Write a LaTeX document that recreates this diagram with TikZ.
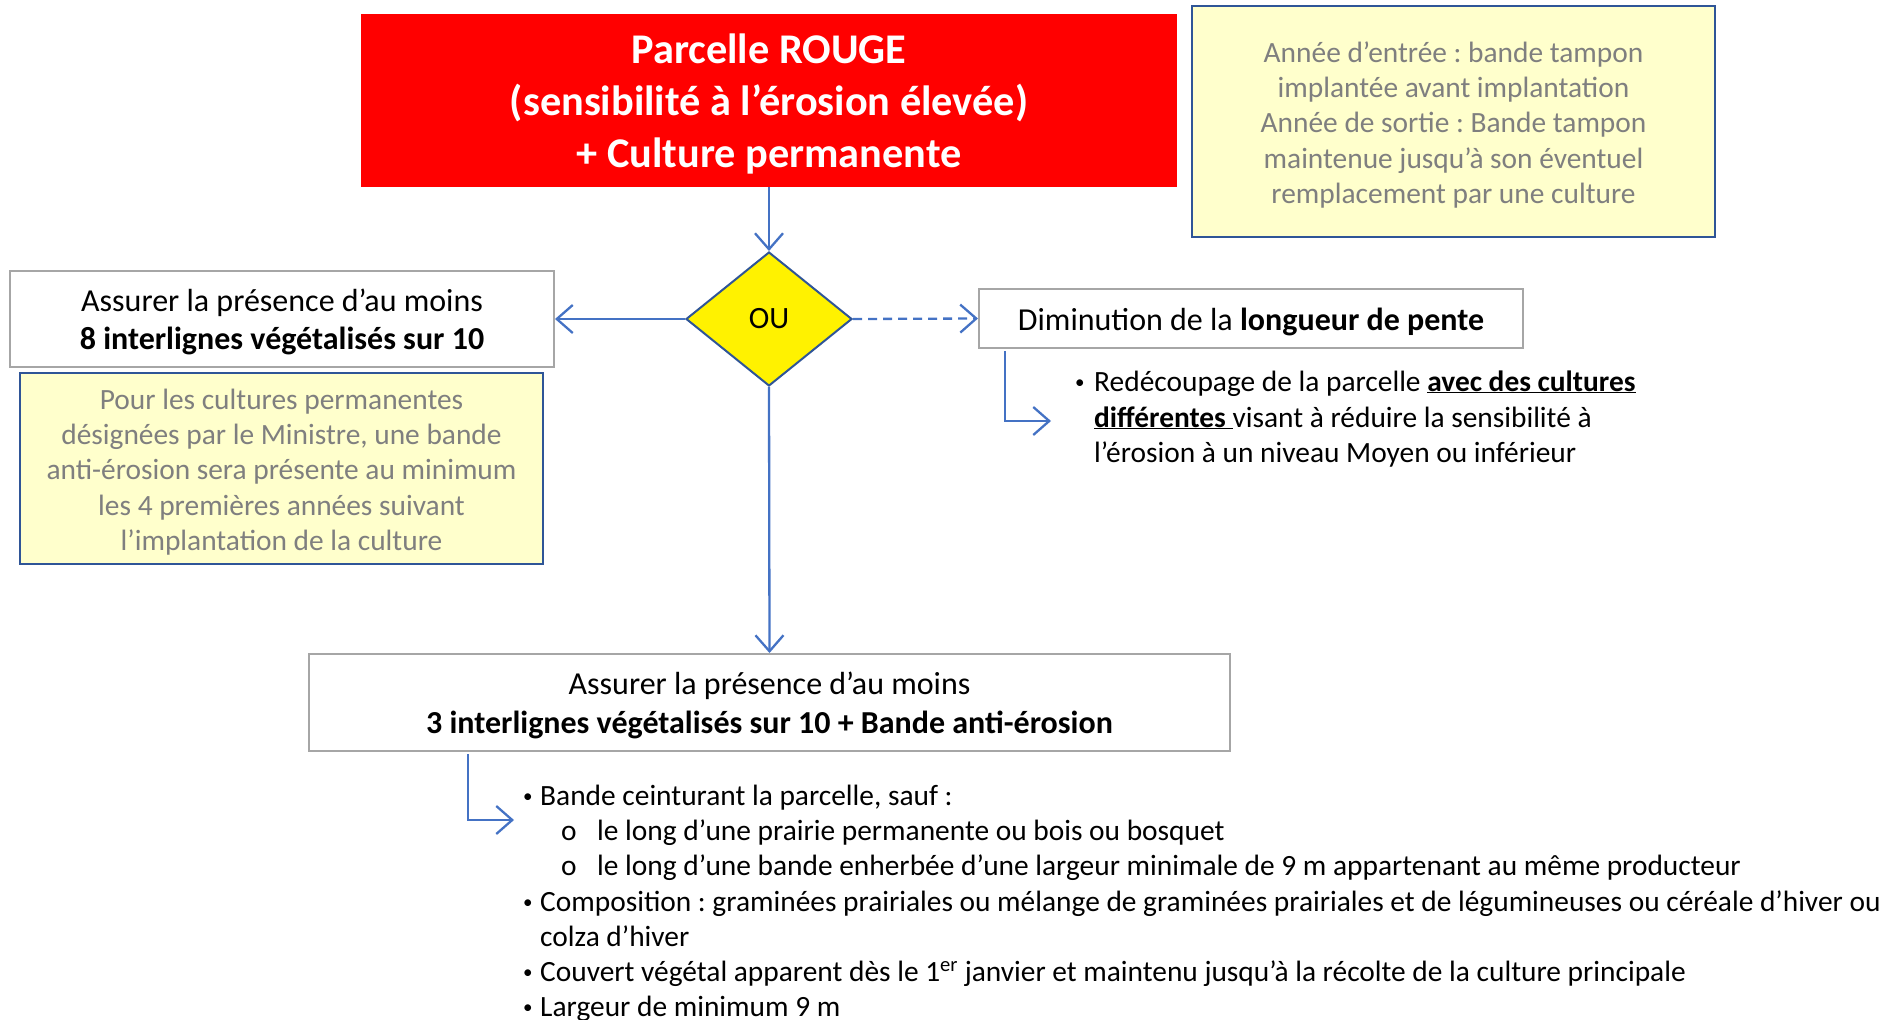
\documentclass[tikz,border=0pt]{standalone}
\usepackage{fontspec}
\setmainfont{Carlito}
\usetikzlibrary{shapes.geometric,arrows.meta}
\definecolor{arrowblue}{HTML}{4472C4}
\definecolor{boxblue}{HTML}{2F5597}
\definecolor{noteyellow}{HTML}{FFFFCC}
\definecolor{notegray}{HTML}{7F7F7F}
\definecolor{boxgray}{HTML}{A6A6A6}
\definecolor{redfill}{HTML}{FF0000}
\frenchspacing
\tikzset{
  redbox/.style={fill=redfill,draw=none,inner sep=0pt},
  redtext/.style={text=white,align=center,inner sep=0pt,yshift=-3.5pt,
    font=\fontsize{42.3}{51.6}\selectfont\bfseries},
  notebox/.style={fill=noteyellow,draw=boxblue,line width=2.5pt,inner sep=0pt},
  notetext/.style={text=notegray,align=center,inner sep=0pt,yshift=-3.5pt,
    font=\fontsize{29.4}{35.2}\selectfont},
  whitebox/.style={fill=white,draw=boxgray,line width=2pt,inner sep=0pt},
  whitetext/.style={align=center,inner sep=0pt,yshift=-3pt,
    font=\fontsize{32}{38.5}\selectfont},
  choice/.style={diamond,fill=yellow,draw=boxblue,line width=2pt,inner sep=0pt,
    font=\fontsize{31}{36}\selectfont},
  arr/.style={draw=arrowblue,line width=2.3pt,-{Straight Barb[length=16pt,width=28pt]}},
  txt/.style={anchor=base west,inner sep=0pt,font=\fontsize{29.4}{35}\selectfont},
  dot/.style={anchor=base west,inner sep=0pt,font=\fontsize{19}{20}\selectfont},
}
\begin{document}
\begin{tikzpicture}[x=1pt,y=-1pt]
\useasboundingbox (0,0) rectangle (1883,1020);
% boxes
\node[redbox,minimum width=816pt,minimum height=173pt] (red) at (769,100.5) {};
\node[redtext] (redt) at (red.center)
  {Parcelle ROUGE\\(sensibilité à l’érosion élevée)\\+ Culture permanente};
\node[notebox,minimum width=523pt,minimum height=231pt] (note1) at (1453.5,121.5) {};
\node[notetext] (note1t) at (note1.center)
  {Année d’entrée : bande tampon\\implantée avant implantation\\Année de sortie : Bande tampon\\maintenue jusqu’à son éventuel\\remplacement par une culture};
\node[whitebox,minimum width=544pt,minimum height=96pt] (lbox) at (282,319) {};
\node[whitetext] (lboxt) at (lbox.center)
  {Assurer la présence d’au moins\\\textbf{8 interlignes végétalisés sur 10}};
\node[notebox,minimum width=523pt,minimum height=191pt] (note2) at (281.5,468.5) {};
\node[notetext] (note2t) at (note2.center)
  {Pour les cultures permanentes\\désignées par le Ministre, une bande\\anti-érosion sera présente au minimum\\les 4 premières années suivant\\l’implantation de la culture};
\node[choice,minimum width=166pt,minimum height=134pt] (dia) at (769,319) {OU};
\node[whitebox,minimum width=544pt,minimum height=59pt] (dbox) at (1251,318.5) {};
\node[whitetext] (dboxt) at (dbox.center)
  {Diminution de la \textbf{longueur de pente}};
\node[whitebox,minimum width=921pt,minimum height=97pt] (bbox) at (769.5,702.5) {};
\node[whitetext] (bboxt) at (bbox.center)
  {Assurer la présence d’au moins\\\textbf{3 interlignes végétalisés sur 10 + Bande anti-érosion}};
% connectors
\draw[arr] (red.south) -- (dia.north);
\draw[arr] (dia.west) -- (lbox.east);
\draw[arr,dash pattern=on 9pt off 6pt] (dia.east) -- (dbox.west);
\draw[arr] (dia.south) -- (bbox.north);
\coordinate (e1s) at (1005,351);
\coordinate (e1e) at (1051,421);
\draw[arr] (e1s) |- (e1e);
\coordinate (e2s) at (468,754);
\coordinate (e2e) at (514,820);
\draw[arr] (e2s) |- (e2e);
% right bullet list
\node[dot] (r0) at (1075,388) {•};
\node[txt] (r1) at (1094,391) {Redécoupage de la parcelle \textbf{\underline{avec des cultures}}};
\node[txt] (r2) at (1094,427) {\textbf{\underline{différentes }}visant à réduire la sensibilité à};
\node[txt] (r3) at (1094,462) {l’érosion à un niveau Moyen ou inférieur};
% bottom bullet list
\node[dot] (b0) at (523,802) {•};
\node[txt] (b1) at (540,805) {Bande ceinturant la parcelle, sauf :};
\node[txt] (s0) at (561,840) {o};
\node[txt] (s1) at (597,840) {le long d’une prairie permanente ou bois ou bosquet};
\node[txt] (s2) at (561,875) {o};
\node[txt] (s3) at (597,875) {le long d’une bande enherbée d’une largeur minimale de 9 m appartenant au même producteur};
\node[dot] (b2) at (523,908) {•};
\node[txt] (b3) at (540,911) {Composition : graminées prairiales ou mélange de graminées prairiales et de légumineuses ou céréale d’hiver ou};
\node[txt] (b4) at (540,946) {colza d’hiver};
\node[dot] (b5) at (523,978) {•};
\node[txt] (b6) at (540,981) {Couvert végétal apparent dès le 1\textsuperscript{er} janvier et maintenu jusqu’à la récolte de la culture principale};
\node[dot] (b7) at (523,1013) {•};
\node[txt] (b8) at (540,1016) {Largeur de minimum 9 m};
\end{tikzpicture}
\end{document}
